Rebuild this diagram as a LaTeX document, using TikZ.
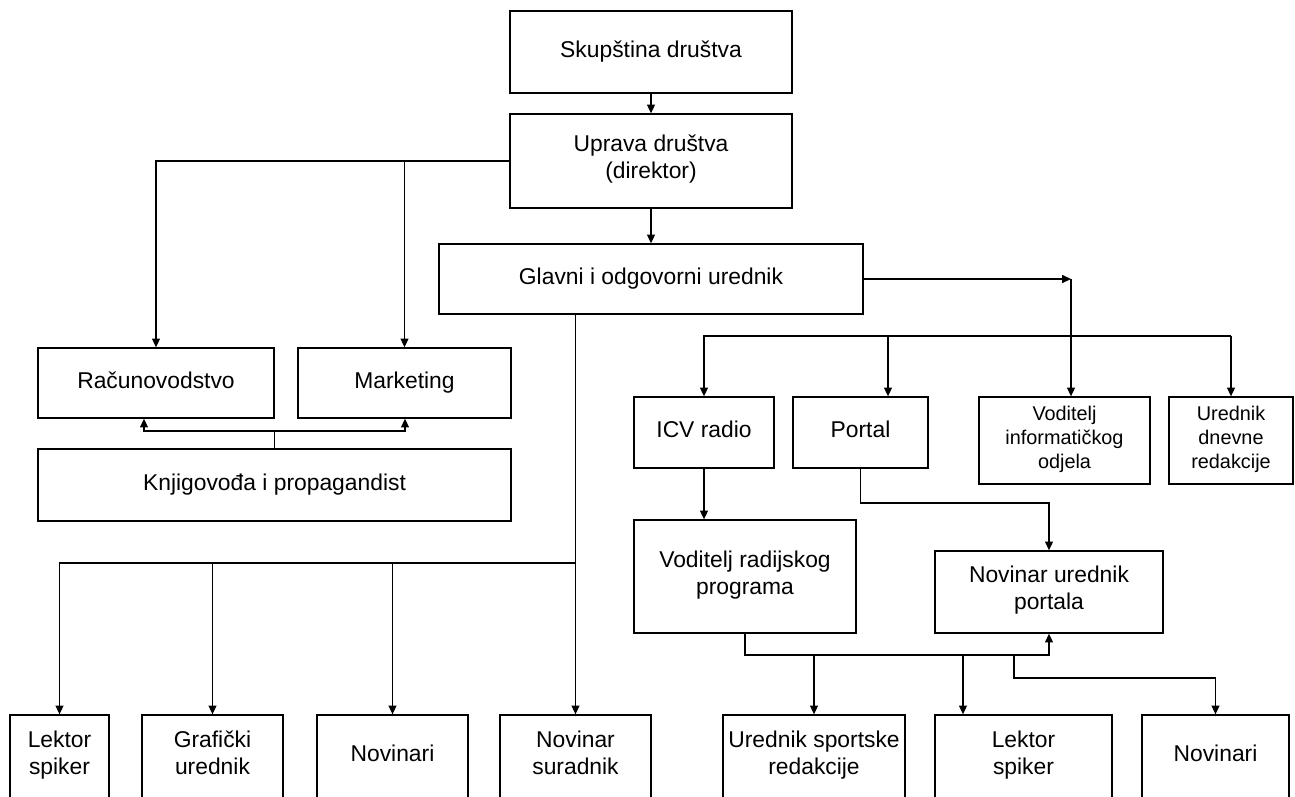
\documentclass[tikz,border=0pt]{standalone}
\usepackage{fontspec}
\setmainfont{Liberation Sans}
\usetikzlibrary{arrows.meta,calc}
\begin{document}
\begin{tikzpicture}[x=0.02cm,y=-0.02cm,line width=0.75pt,
  box/.style={draw,line width=0.75pt,inner sep=0pt,align=center,font=\fontsize{13}{15.5}\selectfont,
    execute at begin node=\strut, execute at end node=\strut},
  sbox/.style={box,font=\fontsize{11.3}{13.6}\selectfont},
  span/.style n args={4}{minimum width={(#3-#1)*0.02cm}, minimum height={(#4-#2)*0.02cm}, at={({(#1+#3)/2},{(#2+#4)/2})}},
  arr/.style={-{Triangle[length=5pt,width=4.5pt]}}]
\clip (0,0) rectangle (1295,796);
\fill[white] (0,0) rectangle (1295,796);
% nodes
\node[box,span={510}{11}{792}{93}] (sk) {Skupština društva};
\node[box,span={510}{114}{792}{208}] (up) {Uprava društva\\(direktor)};
\node[box,span={439}{244}{863}{314}] (gl) {Glavni i odgovorni urednik};
\node[box,span={38}{348}{274}{418}] (rac) {Računovodstvo};
\node[box,span={298}{348}{511}{418}] (mk) {Marketing};
\node[box,span={38}{449}{511}{521}] (kp) {Knjigovođa i propagandist};
\node[box,span={634}{397}{774}{468}] (icv) {ICV radio};
\node[box,span={793}{397}{928}{468}] (po) {Portal};
\node[sbox,span={979}{397}{1150}{484}] (vi) {Voditelj\\informatičkog\\odjela};
\node[sbox,span={1169}{397}{1293}{484}] (ud) {Urednik\\dnevne\\redakcije};
\node[box,span={634}{520}{856}{633}] (vr) {Voditelj radijskog\\programa};
\node[box,span={935}{551}{1163}{633}] (nup) {Novinar urednik\\portala};
\node[box,span={10}{715}{109}{798}] (ls1) {Lektor\\spiker};
\node[box,span={142}{715}{283}{798}] (gu) {Grafički\\urednik};
\node[box,span={317}{715}{468}{798}] (nv1) {Novinari};
\node[box,span={500}{715}{651}{798}] (ns) {Novinar\\suradnik};
\node[box,span={723}{715}{905}{798}] (us) {Urednik sportske\\redakcije};
\node[box,span={935}{715}{1112}{798}] (ls2) {Lektor\\spiker};
\node[box,span={1142}{715}{1289}{798}] (nv2) {Novinari};
% junction coordinates
\coordinate (kj) at (274.5,431);
\coordinate (gb) at (575.5,563);
\coordinate (gc) at (1071,279);
\coordinate (hl) at (704,336);
\coordinate (hp) at (888,336);
\coordinate (pj) at (860.5,503);
\coordinate (vj) at (745,655);
\coordinate (l2) at (963,655);
\coordinate (nj) at (1014,655);
\coordinate (nk) at (1014,678);
% connectors
\draw[arr] (sk) -- (up);
\draw[arr] (up) -- (gl);
\draw[arr] (up.west) -| (rac.north);
\draw[arr] (up.west) -| (mk.north);
\draw (kp.north) -- (kj);
\draw[arr] (kj) -| ($(rac.south)+(-12,0)$);
\draw[arr] (kj) -| ($(mk.south)+(0.5,0)$);
\draw[arr] (gl.south -| gb) -- (ns.north);
\draw[arr] (gb) -| (ls1.north);
\draw[arr] (gb) -| (gu.north);
\draw[arr] (gb) -| (nv1.north);
\draw[arr] (gl.east) -- (gc);
\draw[arr] (gc) -- (gc |- vi.north);
\draw[arr] (ud.north |- hl) -| (icv.north);
\draw[arr] (ud.north |- hl) -- (ud.north);
\draw[arr] (hp) -- (hp |- po.north);
\draw[arr] (icv.south) -- (icv.south |- vr.north);
\draw[arr] (po.south) -- (pj) -| (nup.north);
\draw[arr] (vr.south) -- (vj) -| (nup.south);
\draw[arr] (us.north |- vj) -- (us.north);
\draw[arr] (l2) -- (l2 |- ls2.north);
\draw[arr] (nj) -- (nk) -| (nv2.north);
\end{tikzpicture}
\end{document}
